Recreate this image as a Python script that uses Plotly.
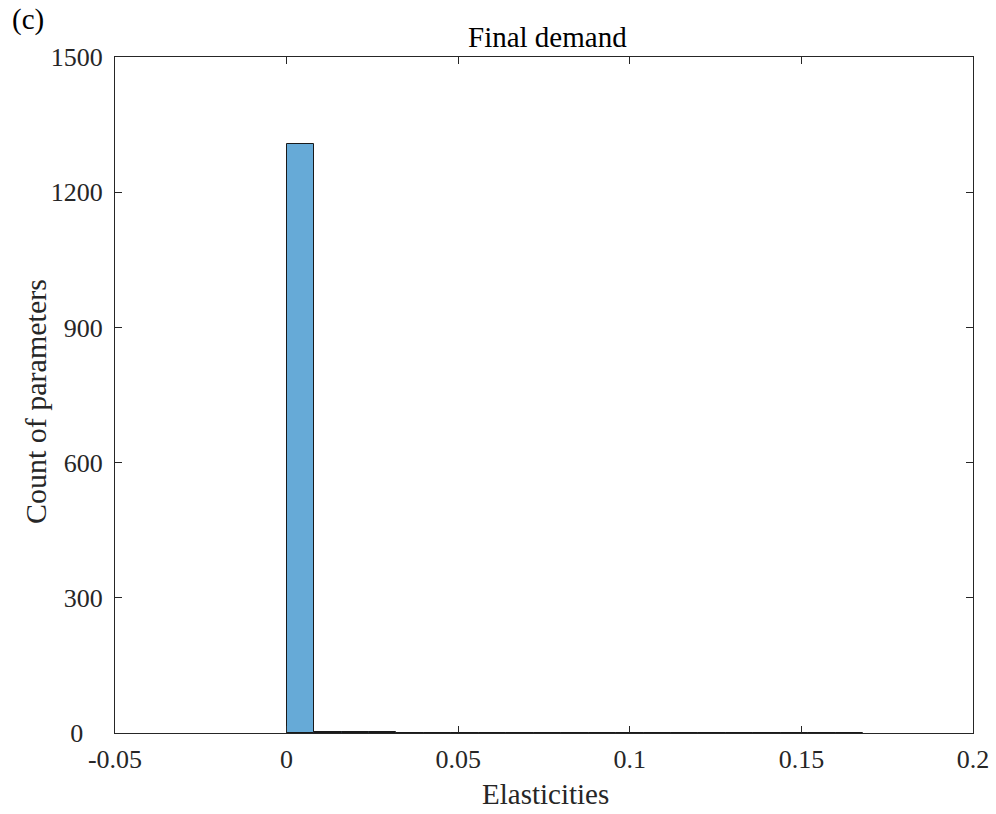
import plotly.graph_objects as go

bin_edges_start = [0.000, 0.008, 0.016, 0.024, 0.032, 0.040, 0.048, 0.056, 0.064, 0.072,
                   0.080, 0.088, 0.096, 0.104, 0.112, 0.120, 0.128, 0.136, 0.144, 0.152, 0.160]
counts = [1308, 3, 2, 2, 1, 1, 1, 1, 1, 1, 1, 1, 1, 1, 1, 1, 1, 1, 1, 1, 1]
bin_width = 0.008
x_ticks = [-0.05, 0, 0.05, 0.1, 0.15, 0.2]
x_tick_text = ["-0.05", "0", "0.05", "0.1", "0.15", "0.2"]
y_ticks = [0, 300, 600, 900, 1200, 1500]
y_tick_text = ["0\u2007\u2008", "300", "600", "900", "1200", "1500"]

centers = [s + bin_width / 2 for s in bin_edges_start]

font_family = "Liberation Serif, Times New Roman, serif"
axis_color = "#262626"

fig = go.Figure()
fig.add_trace(go.Bar(
    x=centers, y=counts, width=[bin_width] * len(counts),
    marker=dict(color="#66AAD7", line=dict(color="#1a1a1a", width=1)),
    showlegend=False,
))

axis_common = dict(
    showline=True, linecolor=axis_color, linewidth=1, mirror="ticks",
    ticks="inside", ticklen=7, tickwidth=1, tickcolor=axis_color,
    showgrid=False, zeroline=False, automargin=False, ticklabeloverflow="allow",
    tickfont=dict(family=font_family, size=26, color=axis_color),
)

fig.update_layout(
    width=996, height=814,
    paper_bgcolor="white", plot_bgcolor="white",
    margin=dict(l=115, r=23, t=57, b=81),
    bargap=0,
    xaxis=dict(range=[-0.05, 0.2], tickvals=x_ticks, ticktext=x_tick_text,
               ticklabelstandoff=3, **axis_common),
    yaxis=dict(range=[0, 1500], tickvals=y_ticks, ticktext=y_tick_text,
               ticklabelstandoff=6, **axis_common),
    annotations=[
        dict(text="(c)", x=-0.101, y=1.055, xref="paper", yref="paper",
             xanchor="center", yanchor="middle", showarrow=False,
             font=dict(family=font_family, size=29, color="#000000")),
        dict(text="Final demand", x=0.5035, y=1.029, xref="paper", yref="paper",
             xanchor="center", yanchor="middle", showarrow=False,
             font=dict(family=font_family, size=29, color="#000000")),
        dict(text="Elasticities", x=0.5015, y=-0.0895, xref="paper", yref="paper",
             xanchor="center", yanchor="middle", showarrow=False,
             font=dict(family=font_family, size=29, color=axis_color)),
        dict(text="Count of parameters", x=-0.0932, y=0.4896, xref="paper", yref="paper",
             xanchor="center", yanchor="middle", showarrow=False, textangle=-90,
             font=dict(family=font_family, size=30, color=axis_color)),
    ],
)
fig.write_html("out.html", config={"displayModeBar": False},
               post_script="document.body.style.margin='0px';")
